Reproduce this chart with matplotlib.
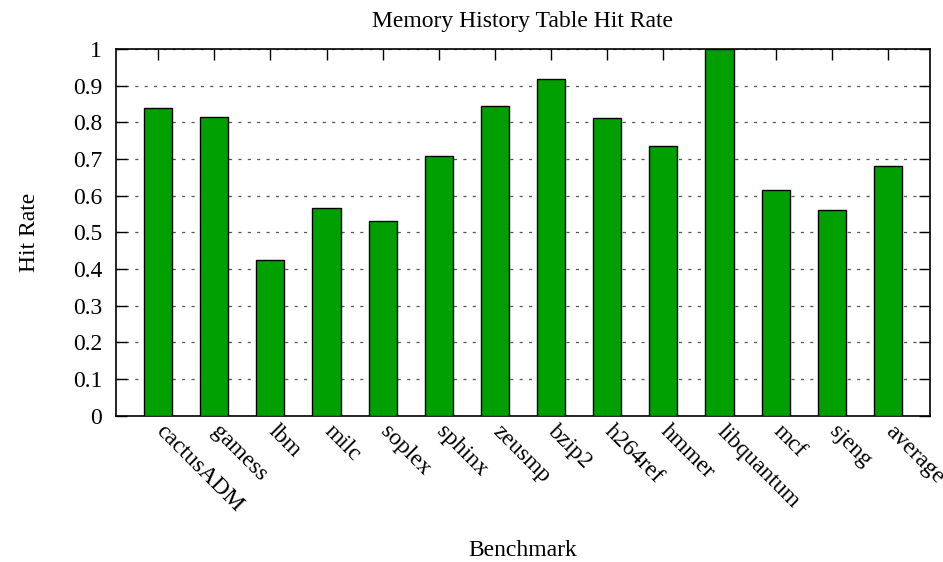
import numpy as np
import matplotlib
matplotlib.use("Agg")
import matplotlib.pyplot as plt
from matplotlib.transforms import ScaledTranslation

BAR_COLOR = "#00a000"

benchmarks = ["cactusADM", "gamess", "lbm", "milc", "soplex", "sphinx", "zeusmp",
              "bzip2", "h264ref", "hmmer", "libquantum", "mcf", "sjeng", "average"]
hit_rate = [0.840, 0.815, 0.425, 0.566, 0.532, 0.707, 0.844,
            0.919, 0.813, 0.736, 1.000, 0.616, 0.561, 0.681]
y_ticks = [0, 0.1, 0.2, 0.3, 0.4, 0.5, 0.6, 0.7, 0.8, 0.9, 1]
y_tick_labels = ["0", "0.1", "0.2", "0.3", "0.4", "0.5", "0.6", "0.7", "0.8", "0.9", "1"]

plt.rcParams["font.family"] = ["Liberation Serif", "DejaVu Serif"]
plt.rcParams["font.size"] = 17

fig = plt.figure(figsize=(9.43, 5.62), dpi=100)
ax = fig.add_axes([116 / 943, 1 - 415.7 / 562, (930 - 116) / 943, (415.7 - 49) / 562])

x = np.arange(len(benchmarks))
ax.bar(x, hit_rate, width=0.5, color=BAR_COLOR, edgecolor="black", linewidth=1.0, zorder=3)

ax.set_xlim(-0.75, len(benchmarks) - 0.25)
ax.set_ylim(0, 1)
ax.set_yticks(y_ticks)
ax.set_yticklabels(y_tick_labels)
ax.yaxis.grid(True, linestyle=(0, (2.5, 5)), color="#555555", linewidth=0.9, zorder=0)
ax.set_axisbelow(True)

# ticks on the top edge only; rotated names written below the axis
ax.set_xticks(x)
ax.set_xticklabels([])
ax.tick_params(axis="x", which="both", direction="in", bottom=False, top=True,
               length=8, width=1.0)
ax.tick_params(axis="y", which="both", direction="in", left=True, right=True,
               length=8, width=1.0, pad=10)
label_tf = ax.get_xaxis_transform() + ScaledTranslation(8 / 100, -5 / 100, fig.dpi_scale_trans)
for xi, name in zip(x, benchmarks):
    ax.text(xi, 0, name, transform=label_tf, rotation=-45, ha="left", va="top",
            rotation_mode="anchor", fontsize=17, clip_on=False)

for s in ax.spines.values():
    s.set_linewidth(1.2)

ax.set_title("Memory History Table Hit Rate", fontsize=17, pad=16)
fig.text(30 / 943, 1 - 232 / 562, "Hit Rate", rotation=90, ha="center", va="center", fontsize=17)
fig.text(523 / 943, 1 - 550 / 562, "Benchmark", ha="center", va="center", fontsize=17)

fig.savefig("out.png", dpi=100)
